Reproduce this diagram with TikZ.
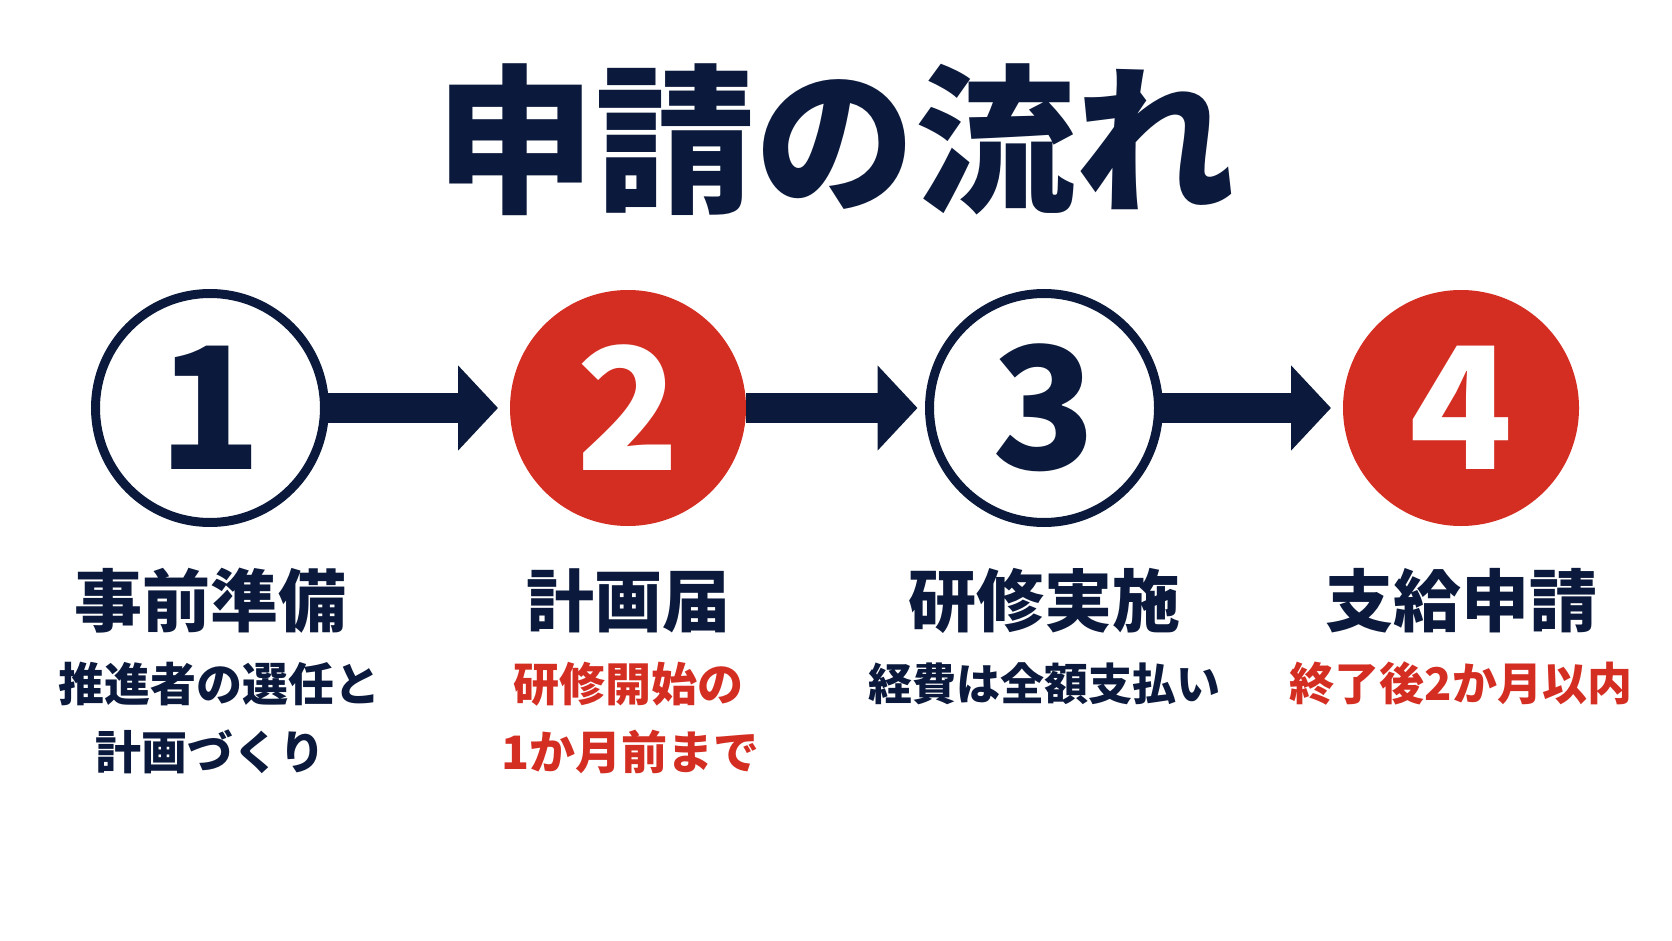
\documentclass[tikz,border=0pt]{standalone}
\usepackage{fontspec}
\setmainfont{Noto Sans CJK JP}
\usetikzlibrary{arrows.meta}
\definecolor{navy}{HTML}{0B1A3C}
\definecolor{accent}{HTML}{D42E23}
\tikzset{
  ring/.style={circle,draw=navy,line width=9pt,fill=white,minimum size=229pt,inner sep=0pt,outer sep=0pt,
    text=navy,font=\fontsize{170}{170}\selectfont\bfseries},
  disc/.style={circle,fill=accent,minimum size=236pt,inner sep=0pt,outer sep=0pt,
    text=white,font=\fontsize{170}{170}\selectfont\bfseries},
  flow/.style={draw=navy,line width=30pt,-{Triangle[length=40pt,width=83pt]},shorten >=12pt},
  head/.style={text=navy,font=\fontsize{68}{68}\selectfont\bfseries},
  sub/.style={font=\fontsize{46}{46}\selectfont\bfseries},
}
\begin{document}
\begin{tikzpicture}[x=1pt,y=-1pt]
\useasboundingbox[fill=white] (0,0) rectangle (1672,941);
\node[text=navy,font=\fontsize{160}{160}\selectfont\bfseries] (title) at (835,140) {申請の流れ};
\node[ring] (c1) at (210,408) {1};
\node[disc] (c2) at (628,408) {2};
\node[ring] (c3) at (1044,408) {3};
\node[disc] (c4) at (1461,408) {4};
\draw[flow] (c1.east) -- (c2.west);
\draw[flow] (c2.east) -- (c3.west);
\draw[flow] (c3.east) -- (c4.west);
\node[head] (h1) at (210,601) {事前準備};
\node[head] (h2) at (628,601) {計画届};
\node[head] (h3) at (1044,601) {研修実施};
\node[head] (h4) at (1461,601) {支給申請};
\node[sub,text=navy] (s1a) at (219,684) {推進者の選任と};
\node[sub,text=navy] (s1b) at (210,752) {計画づくり};
\node[sub,text=accent] (s2a) at (628,684) {研修開始の};
\node[sub,text=accent] (s2b) at (630,752) {1か月前まで};
\node[sub,text=navy,font=\fontsize{44}{44}\selectfont\bfseries] (s3a) at (1044,684) {経費は全額支払い};
\node[sub,text=accent,font=\fontsize{45}{45}\selectfont\bfseries] (s4a) at (1461,684) {終了後2か月以内};
\end{tikzpicture}
\end{document}
